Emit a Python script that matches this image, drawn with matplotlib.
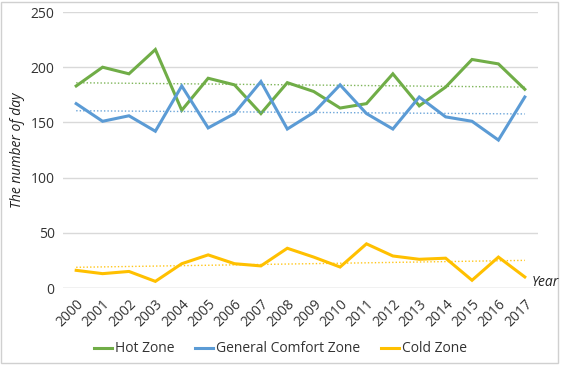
import numpy as np
from matplotlib import pyplot as plt
from matplotlib.patches import Rectangle

years = [str(y) for y in range(2000, 2018)]
hot = [183, 200, 194, 216, 161, 190, 184, 158, 186, 178, 163, 167, 194, 165, 182, 207, 203, 180]
comfort = [167, 151, 156, 142, 183, 145, 158, 187, 144, 159, 184, 158, 144, 173, 155, 151, 134, 173]
cold = [16, 13, 15, 6, 22, 30, 22, 20, 36, 28, 19, 40, 29, 26, 27, 7, 28, 10]

series = [("Hot Zone", hot, '#70AD47'),
          ("General Comfort Zone", comfort, '#5B9BD5'),
          ("Cold Zone", cold, '#FFC000')]

plt.rcParams['font.family'] = ['Open Sans', 'DejaVu Sans']

fig = plt.figure(figsize=(5.61, 3.67), dpi=100)
ax = fig.add_axes([63 / 561, 79 / 367, 475 / 561, 276 / 367])

x = np.arange(len(years))
for name, vals, color in series:
    ax.plot(x, vals, color=color, lw=2.2, label=name, solid_joinstyle='miter')
    # linear trendline, dotted
    k, b = np.polyfit(x, vals, 1)
    ax.plot(x, k * x + b, color=color, lw=1, ls=(0, (1, 1.5)), alpha=0.9)

ax.set_xlim(-0.5, len(years) - 0.5)
ax.set_ylim(0, 250)
ax.set_yticks([0, 50, 100, 150, 200, 250])
ax.set_xticks(x)
ax.set_xticklabels(years, rotation=45, ha='right', rotation_mode='anchor')
ax.tick_params(axis='both', length=0, labelsize=10, colors='#333333', pad=6)
ax.grid(axis='y', color='#d9d9d9', lw=1)
ax.set_axisbelow(True)
for s in ax.spines.values():
    s.set_visible(False)
ax.axhline(0, color='#d9d9d9', lw=1, zorder=0)

ax.set_ylabel("The number of day", fontsize=10, style='italic', color='#222222', labelpad=4)
fig.text(545 / 561, 1 - 283 / 367, "Year", fontsize=10, style='italic', color='#222222',
         ha='center', va='center')

fig.legend(loc='center', bbox_to_anchor=(0.5, 1 - 349 / 367), ncol=3, frameon=False,
           fontsize=10, handlelength=1.3, handletextpad=0.2, columnspacing=1.5,
           labelcolor='#333333')

fig.patches.append(Rectangle((0.002, 0.01), 0.993, 0.985, transform=fig.transFigure,
                             fill=False, edgecolor='#d0d0d0', lw=1))

fig.savefig('out.png', dpi=100)
